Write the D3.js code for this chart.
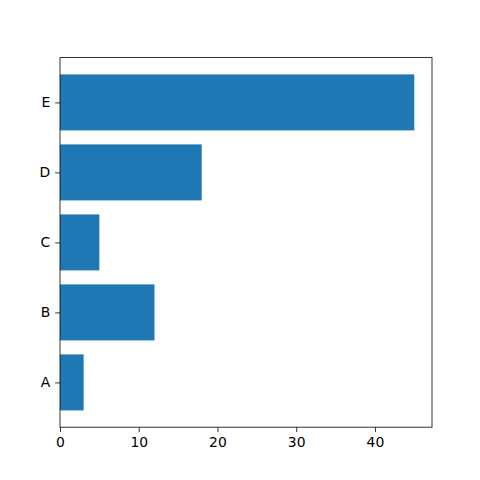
<!DOCTYPE html>
<html>
<head>
<meta charset="utf-8">
<script src="https://cdn.jsdelivr.net/npm/d3@7"></script>
<style>
body { margin: 0; background: #fff; }
svg { display: block; }
</style>
</head>
<body>
<script>
// data
var categories = ["A", "B", "C", "D", "E"];
var values = [3, 12, 5, 18, 45];
var xTicks = [0, 10, 20, 30, 40];

var W = 480, H = 480;
var axLeft = 60, axRight = 432, axTop = 57.6, axBottom = 427.2;
var tickLen = 4.86, tickPad = 4.86, fontSize = 13.9;

var svg = d3.select("body").append("svg").attr("width", W).attr("height", H);

var xMax = d3.max(values) * 1.05;
var x = d3.scaleLinear().domain([0, xMax]).range([axLeft, axRight]);
var n = categories.length;
var yPad = (n - 1 + 0.8) * 0.05;
var y = d3.scaleLinear().domain([-0.4 - yPad, n - 1 + 0.4 + yPad]).range([axBottom, axTop]);

// bars
svg.append("g").selectAll("rect")
	.data(values)
	.enter().append("rect")
	.attr("x", x(0))
	.attr("y", function (d, i) { return y(i + 0.4); })
	.attr("width", function (d) { return x(d) - x(0); })
	.attr("height", function (d, i) { return y(i - 0.4) - y(i + 0.4); })
	.attr("fill", "#1f77b4");

// x axis
var xAxis = d3.axisBottom(x).tickValues(xTicks).tickSizeInner(tickLen).tickSizeOuter(0).tickPadding(tickPad);
var gx = svg.append("g").attr("transform", "translate(0," + axBottom + ")").call(xAxis);
gx.select(".domain").remove();

// y axis
var yAxis = d3.axisLeft(y).tickValues(d3.range(n)).tickFormat(function (i) { return categories[i]; })
	.tickSizeInner(tickLen).tickSizeOuter(0).tickPadding(tickPad);
var gy = svg.append("g").attr("transform", "translate(" + axLeft + ",0)").call(yAxis);
gy.select(".domain").remove();

svg.selectAll(".tick line").attr("stroke", "#000").attr("stroke-width", 0.8);
svg.selectAll(".tick text")
	.attr("fill", "#000")
	.style("font-family", "DejaVu Sans")
	.style("font-size", fontSize + "px");

// frame
svg.append("rect")
	.attr("x", axLeft).attr("y", axTop)
	.attr("width", axRight - axLeft).attr("height", axBottom - axTop)
	.attr("fill", "none").attr("stroke", "#000").attr("stroke-width", 0.8);
</script>
</body>
</html>
